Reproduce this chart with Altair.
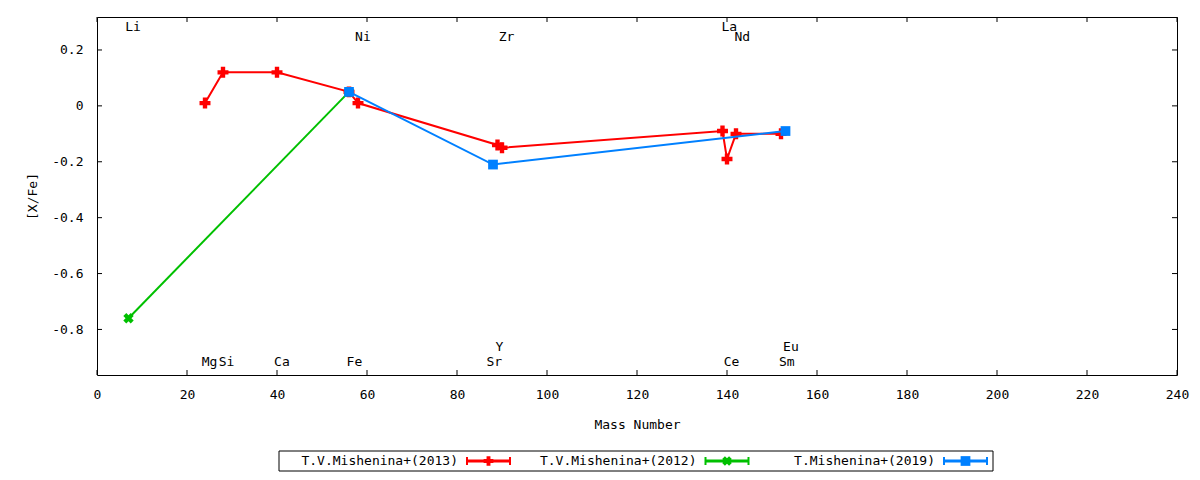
import altair as alt
import pandas as pd

# ---- data ----
red_mass = [24, 28, 40, 56, 58, 89, 90, 139, 140, 142, 152]
red_xfe = [0.01, 0.12, 0.12, 0.05, 0.01, -0.14, -0.15, -0.09, -0.19, -0.10, -0.10]

green_mass = [7, 56]
green_xfe = [-0.76, 0.05]

blue_mass = [56, 88, 153]
blue_xfe = [0.05, -0.21, -0.09]

elem_names = ["Li", "Mg", "Si", "Ca", "Fe", "Ni", "Sr", "Y", "Zr", "La", "Ce", "Nd", "Sm", "Eu"]
elem_x = [8.0, 25.0, 28.8, 41.1, 57.2, 59.1, 88.3, 89.4, 91.0, 140.5, 141.0, 143.4, 153.3, 154.2]
elem_y = [0.281, -0.916, -0.916, -0.916, -0.916, 0.245, -0.916, -0.864, 0.245, 0.281, -0.916, 0.245, -0.916, -0.864]

series_names = ["T.V.Mishenina+(2013)", "T.V.Mishenina+(2012)", "T.Mishenina+(2019)"]
series_colors = ["#ff0000", "#00c000", "#0080ff"]
series_shapes = ["cross", "cross", "square"]
series_angles = [0, 45, 0]

x_ticks = list(range(0, 241, 20))
y_ticks = [0.2, 0, -0.2, -0.4, -0.6, -0.8]

FONT = "DejaVu Sans Mono"
FS = 13
W, H = 1080, 358

xs = alt.Scale(domain=[0, 240], nice=False, zero=False)
ys = alt.Scale(domain=[-0.963, 0.318], nice=False, zero=False)

common = dict(grid=False, domain=False, ticks=False, tickSize=0,
              labelFont=FONT, labelFontSize=FS, labelColor="black",
              titleFont=FONT, titleFontSize=FS, titleColor="black", titleFontWeight="normal")

x_axis = alt.Axis(values=x_ticks, labelPadding=19, labelBaseline="middle",
                  labelFlush=False, labelOverlap=False,
                  title="Mass Number", titleY=49, titleBaseline="middle", **common)
y_axis = alt.Axis(values=y_ticks, labelPadding=14, labelExpr="'' + datum.value",
                  title="[X/Fe]", titleX=-65, titleY=H / 2, titleBaseline="middle",
                  titleAlign="center", titleAngle=-90, **common)

X = alt.X("mass:Q", scale=xs, axis=x_axis)
Y = alt.Y("xfe:Q", scale=ys, axis=y_axis)

red_df = pd.DataFrame({"mass": red_mass, "xfe": red_xfe})
green_df = pd.DataFrame({"mass": green_mass, "xfe": green_xfe})
blue_df = pd.DataFrame({"mass": blue_mass, "xfe": blue_xfe})


def series(df, color, shape, size, angle=0):
    line = alt.Chart(df).mark_line(color=color, strokeWidth=2).encode(x=X, y=Y)
    pts = alt.Chart(df).mark_point(shape=shape, filled=True, size=size, color=color,
                                   opacity=1, angle=angle).encode(x=X, y=Y)
    return [line, pts]


layers = []
layers += series(red_df, series_colors[0], "cross", 120)
layers += series(green_df, series_colors[1], "cross", 110, 45)
layers += series(blue_df, series_colors[2], "square", 95)

# element labels
elem_df = pd.DataFrame({"mass": elem_x, "xfe": elem_y, "name": elem_names})
layers.append(alt.Chart(elem_df).mark_text(font=FONT, fontSize=FS, color="black",
                                           align="center", baseline="middle")
              .encode(x=X, y=Y, text="name:N"))

# inward tick marks on all four sides
xt_df = pd.DataFrame({"mass": x_ticks})
yt_df = pd.DataFrame({"xfe": y_ticks})
TL = 5
layers.append(alt.Chart(xt_df).mark_rule(color="black", strokeWidth=1)
              .encode(x=X, y=alt.value(H), y2=alt.value(H - TL)))
layers.append(alt.Chart(xt_df).mark_rule(color="black", strokeWidth=1)
              .encode(x=X, y=alt.value(0), y2=alt.value(TL)))
layers.append(alt.Chart(yt_df).mark_rule(color="black", strokeWidth=1)
              .encode(y=Y, x=alt.value(0), x2=alt.value(TL)))
layers.append(alt.Chart(yt_df).mark_rule(color="black", strokeWidth=1)
              .encode(y=Y, x=alt.value(W), x2=alt.value(W - TL)))

# ---- legend (gnuplot style: text then sample) ----
leg_df = pd.DataFrame({"name": series_names, "color": series_colors,
                       "shape": series_shapes, "angle": series_angles,
                       "i": list(range(len(series_names)))})
leg = alt.Chart(leg_df).transform_calculate(
    tx="361 + datum.i * 238.5",
    x1="datum.tx + 9",
    x2="datum.tx + 52",
    xm="datum.tx + 30.5",
)
LY = 444
PX = lambda f: alt.X(f"{f}:Q", scale=None, axis=None)

box_df = pd.DataFrame({"bx": [182], "bx2": [896], "by": [LY - 10], "by2": [LY + 10]})
layers.append(alt.Chart(box_df).mark_rect(fill="white", fillOpacity=0, stroke="black", strokeWidth=1)
              .encode(x=PX("bx"), x2=alt.X2("bx2:Q"),
                      y=alt.Y("by:Q", scale=None, axis=None), y2=alt.Y2("by2:Q")))
layers.append(leg.mark_text(font=FONT, fontSize=FS, color="black", align="right", baseline="middle")
              .encode(x=PX("tx"), y=alt.value(LY), text="name:N"))
layers.append(leg.mark_rule(strokeWidth=3)
              .encode(x=PX("x1"), x2=alt.X2("x2:Q"), y=alt.value(LY),
                      color=alt.Color("color:N", scale=None)))
layers.append(leg.mark_rule(strokeWidth=2)
              .encode(x=PX("x1"), y=alt.value(LY - 4), y2=alt.value(LY + 4),
                      color=alt.Color("color:N", scale=None)))
layers.append(leg.mark_rule(strokeWidth=2)
              .encode(x=PX("x2"), y=alt.value(LY - 4), y2=alt.value(LY + 4),
                      color=alt.Color("color:N", scale=None)))
layers.append(leg.mark_point(filled=True, opacity=1, size=95)
              .encode(x=PX("xm"), y=alt.value(LY),
                      color=alt.Color("color:N", scale=None),
                      shape=alt.Shape("shape:N", scale=None),
                      angle=alt.Angle("angle:Q", scale=None)))

chart = alt.layer(*layers).properties(
    width=W, height=H,
    background="white",
    autosize=alt.AutoSizeParams(type="none"),
    padding={"left": 89, "top": 9, "right": 15, "bottom": 97},
).configure_view(stroke="black", strokeWidth=1)

chart.save("out.html", embed_options={"renderer": "svg", "actions": False})
